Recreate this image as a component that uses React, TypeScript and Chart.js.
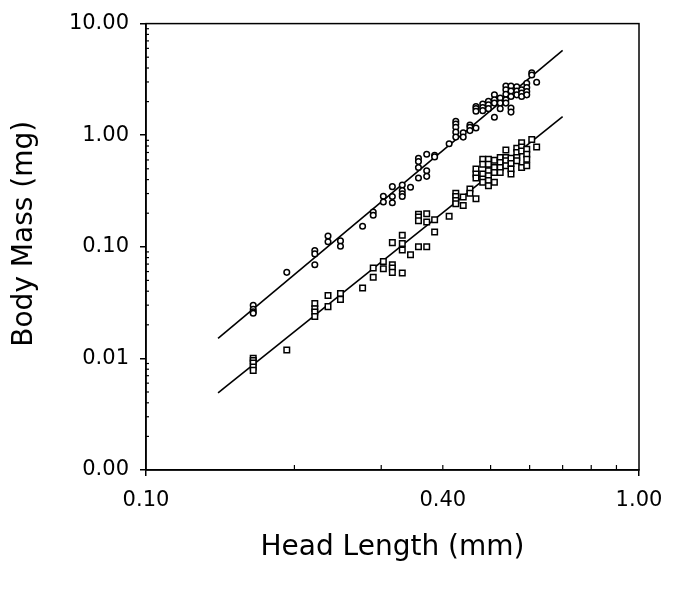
import React, { useEffect, useRef } from "react";
import { Chart, registerables } from "chart.js";

Chart.register(...registerables);

// Upper series (circles): head length (mm) vs body mass (mg)
const circleX = [
  0.165, 0.165, 0.165, 0.165,
  0.193,
  0.22, 0.22, 0.22,
  0.234, 0.234,
  0.248, 0.248,
  0.275,
  0.289, 0.289,
  0.303, 0.303,
  0.316, 0.316, 0.316,
  0.331, 0.331, 0.331, 0.331,
  0.344,
  0.357, 0.357, 0.357, 0.357,
  0.371, 0.371, 0.371,
  0.385, 0.385,
  0.412,
  0.425, 0.425, 0.425, 0.425, 0.425,
  0.44, 0.44,
  0.454, 0.454, 0.454,
  0.467, 0.467, 0.467, 0.467,
  0.482, 0.482, 0.482,
  0.495, 0.495, 0.495,
  0.509, 0.509, 0.509, 0.509,
  0.523, 0.523, 0.523,
  0.537, 0.537, 0.537, 0.537, 0.537,
  0.55, 0.55, 0.55, 0.55, 0.55,
  0.565, 0.565, 0.565,
  0.578, 0.578, 0.578,
  0.592, 0.592, 0.592, 0.592,
  0.606, 0.606,
  0.62,
];
const circleY = [
  0.0299, 0.0275, 0.0261, 0.0254,
  0.059,
  0.0925, 0.0864, 0.069,
  0.125, 0.111,
  0.113, 0.101,
  0.153,
  0.205, 0.192,
  0.284, 0.252,
  0.346, 0.282, 0.248,
  0.358, 0.319, 0.298, 0.282,
  0.342,
  0.622, 0.581, 0.514, 0.413,
  0.675, 0.48, 0.428,
  0.661, 0.639,
  0.839,
  1.33, 1.26, 1.18, 1.065, 0.962,
  1.05, 0.962,
  1.23, 1.18, 1.1,
  1.81, 1.73, 1.64, 1.16,
  1.9, 1.77, 1.66,
  2.01, 1.87, 1.73,
  2.3, 2.08, 1.94, 1.45,
  2.15, 1.94, 1.73,
  2.76, 2.55, 2.33, 2.08, 1.94,
  2.76, 2.49, 2.22, 1.75, 1.61,
  2.72, 2.49, 2.3,
  2.55, 2.38, 2.22,
  2.92, 2.67, 2.46, 2.3,
  3.63, 3.46,
  2.98,
];

// Lower series (squares)
const squareX = [
  0.165, 0.165, 0.165, 0.165, 0.165,
  0.193,
  0.22, 0.22, 0.22, 0.22,
  0.234, 0.234,
  0.248, 0.248,
  0.275,
  0.289, 0.289,
  0.303, 0.303,
  0.316, 0.316, 0.316, 0.316,
  0.331, 0.331, 0.331, 0.331,
  0.344,
  0.357, 0.357, 0.357, 0.357,
  0.371, 0.371, 0.371,
  0.385, 0.385,
  0.412,
  0.425, 0.425, 0.425, 0.425,
  0.44, 0.44,
  0.454, 0.454,
  0.467, 0.467, 0.467, 0.467,
  0.482, 0.482, 0.482, 0.482, 0.482,
  0.495, 0.495, 0.495, 0.495, 0.495, 0.495,
  0.509, 0.509, 0.509, 0.509,
  0.523, 0.523, 0.523, 0.523,
  0.537, 0.537, 0.537, 0.537,
  0.55, 0.55, 0.55, 0.55,
  0.565, 0.565, 0.565, 0.565,
  0.578, 0.578, 0.578, 0.578,
  0.592, 0.592, 0.592, 0.592,
  0.606,
  0.62,
];
const squareY = [
  0.01005, 0.00958, 0.00908, 0.00837, 0.00781,
  0.0119,
  0.0311, 0.0279, 0.0261, 0.0237,
  0.0366, 0.0291,
  0.0382, 0.0338,
  0.0428,
  0.0645, 0.0533,
  0.0739, 0.0636,
  0.109, 0.069, 0.0645, 0.059,
  0.127, 0.107, 0.0937, 0.0582,
  0.0847,
  0.196, 0.185, 0.171, 0.1,
  0.198, 0.167, 0.1,
  0.175, 0.136,
  0.188,
  0.302, 0.282, 0.26, 0.243,
  0.279, 0.235,
  0.33, 0.302,
  0.497, 0.449, 0.413, 0.269,
  0.609, 0.55, 0.449, 0.405, 0.378,
  0.609, 0.55, 0.48, 0.434, 0.392, 0.353,
  0.597, 0.514, 0.464, 0.378,
  0.63, 0.569, 0.514, 0.464,
  0.737, 0.63, 0.589, 0.532,
  0.622, 0.558, 0.497, 0.449,
  0.763, 0.698, 0.63, 0.589,
  0.856, 0.784, 0.722, 0.514,
  0.748, 0.675, 0.609, 0.532,
  0.917,
  0.784,
];

// Fitted regression lines (end points)
const fitX = [0.14, 0.7];
const upperFitY = [0.0151, 5.76];
const lowerFitY = [0.0049, 1.47];

// Axis ticks and titles
const xTickValues = [0.1, 0.4, 1.0];
const xOutsideTicks = [0.1, 1.0];
const xMinorTicks = [0.2, 0.3, 0.4, 0.5, 0.6, 0.7, 0.8, 0.9];
const yTickValues = [0.001, 0.01, 0.1, 1, 10];
const yMinorMultipliers = [2, 3, 4, 5, 6, 7, 8, 9];
const yDecades = [0.001, 0.01, 0.1, 1];
const xTitle = "Head Length (mm)";
const yTitle = "Body Mass (mg)";

const FONT = "'DejaVu Sans', sans-serif";

const toPoints = (xs: number[], ys: number[]) => xs.map((x, i) => ({ x, y: ys[i] }));

const framePlugin = {
  id: "frame",
  afterDraw(chart: any) {
    const { ctx, chartArea: a, scales } = chart;
    ctx.save();
    ctx.strokeStyle = "#000";
    ctx.lineWidth = 1.5;
    ctx.strokeRect(a.left, a.top, a.right - a.left, a.bottom - a.top);
    ctx.lineWidth = 1.2;
    xMinorTicks.forEach((v) => {
      const px = scales.x.getPixelForValue(v);
      ctx.beginPath();
      ctx.moveTo(px, a.bottom);
      ctx.lineTo(px, a.bottom - 5);
      ctx.stroke();
    });
    yDecades.forEach((d) => {
      yMinorMultipliers.forEach((m) => {
        const py = scales.y.getPixelForValue(d * m);
        ctx.beginPath();
        ctx.moveTo(a.left, py);
        ctx.lineTo(a.left + 3, py);
        ctx.stroke();
      });
    });
    // y-axis title
    ctx.fillStyle = "#000";
    ctx.font = `28px ${FONT}`;
    ctx.textAlign = "center";
    ctx.textBaseline = "middle";
    ctx.translate(25, (a.top + a.bottom) / 2 - 13);
    ctx.rotate(-Math.PI / 2);
    ctx.fillText(yTitle, 0, 0);
    ctx.restore();
  },
};

export default function App() {
  const ref = useRef<HTMLCanvasElement | null>(null);

  useEffect(() => {
    if (!ref.current) return;
    const chart = new Chart(ref.current, {
      type: "scatter",
      data: {
        datasets: [
          {
            label: "Circles",
            data: toPoints(circleX, circleY),
            pointStyle: "circle",
            pointRadius: 2.8,
            borderColor: "#000",
            backgroundColor: "#fff",
            borderWidth: 1.5,
          },
          {
            label: "Squares",
            data: toPoints(squareX, squareY),
            pointStyle: "rect",
            pointRadius: 3.9,
            borderColor: "#000",
            backgroundColor: "#fff",
            borderWidth: 1.5,
          },
          {
            label: "Upper fit",
            data: toPoints(fitX, upperFitY),
            showLine: true,
            pointRadius: 0,
            borderColor: "#000",
            borderWidth: 1.6,
          },
          {
            label: "Lower fit",
            data: toPoints(fitX, lowerFitY),
            showLine: true,
            pointRadius: 0,
            borderColor: "#000",
            borderWidth: 1.6,
          },
        ] as any,
      },
      options: {
        responsive: false,
        animation: false,
        layout: { padding: { left: 0, top: 18, right: 42, bottom: 0 } },
        plugins: { legend: { display: false }, tooltip: { enabled: false } },
        scales: {
          x: {
            type: "logarithmic",
            min: 0.1,
            max: 1.0,
            afterBuildTicks: (scale: any) => {
              scale.ticks = xTickValues.map((v) => ({ value: v }));
            },
            afterFit: (scale: any) => {
              scale.height = 120;
            },
            grid: {
              drawOnChartArea: false,
              drawTicks: true,
              tickLength: 6,
              lineWidth: 1.5,
              tickColor: (ctx: any) =>
                ctx.tick && xOutsideTicks.includes(ctx.tick.value) ? "#000" : "rgba(0,0,0,0)",
            },
            border: { display: true, color: "#000", width: 1.5 },
            ticks: {
              color: "#000",
              padding: 12,
              maxRotation: 0,
              autoSkip: false,
              font: { family: FONT, size: 21 },
              callback: (v: any) => Number(v).toFixed(2),
            },
            title: {
              display: true,
              text: xTitle,
              color: "#000",
              font: { family: FONT, size: 28 },
              padding: { top: 0, bottom: 25 },
            },
          },
          y: {
            type: "logarithmic",
            min: 0.001,
            max: 10,
            afterBuildTicks: (scale: any) => {
              scale.ticks = yTickValues.map((v) => ({ value: v }));
            },
            afterFit: (scale: any) => {
              scale.width = 146;
            },
            grid: {
              drawOnChartArea: false,
              drawTicks: true,
              tickLength: 6,
              lineWidth: 1.5,
              tickColor: "#000",
            },
            border: { display: true, color: "#000", width: 1.5 },
            ticks: {
              color: "#000",
              padding: 11,
              autoSkip: false,
              font: { family: FONT, size: 21 },
              callback: (v: any) => Number(v).toFixed(2),
            },
            title: { display: false },
          },
        },
      } as any,
      plugins: [framePlugin],
    });
    return () => chart.destroy();
  }, []);

  return (
    <div style={{ position: "fixed", left: 0, top: 0, width: 681, height: 590, background: "#fff" }}>
      <canvas ref={ref} width={681} height={590} />
    </div>
  );
}
